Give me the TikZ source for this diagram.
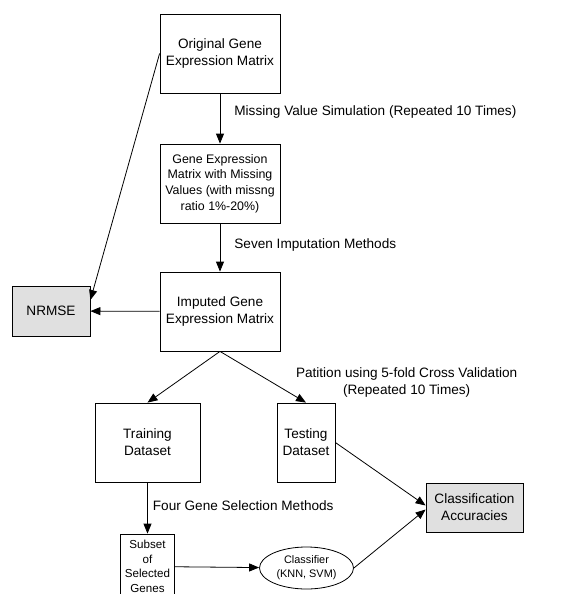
\documentclass[tikz,border=0pt]{standalone}
\usepackage{fontspec}
\setmainfont{Liberation Sans}
\usetikzlibrary{shapes.geometric, arrows.meta}
\usepackage{xcolor}
\definecolor{boxgray}{gray}{0.88}
\tikzstyle{process} = [rectangle, minimum width=120pt, minimum height=79pt, align=center, draw=black, fill=white, line width=0.8pt, font=\fontsize{13.6}{17}\selectfont]
\tikzstyle{result} = [rectangle, minimum height=50pt, align=center, draw=black, fill=boxgray, line width=0.8pt, font=\fontsize{13.6}{17}\selectfont]
\tikzstyle{classifier} = [ellipse, minimum width=94pt, minimum height=42pt, inner sep=0pt, align=center, draw=black, fill=white, line width=0.8pt, font=\fontsize{10.9}{14}\selectfont]
\tikzstyle{steplabel} = [anchor=west, inner sep=0pt, font=\fontsize{13.6}{17}\selectfont]
\tikzstyle{arrow} = [line width=0.8pt, -{Triangle[length=10pt,width=8pt]}]

\begin{document}
\begin{tikzpicture}[node distance=130pt]
    \useasboundingbox (-220pt,53.5pt) rectangle (344pt,-540.5pt);

    \node (orig) [process] {Original Gene\\Expression Matrix};
    \node (miss) [process, below of=orig, font=\fontsize{12.4}{15.7}\selectfont] {Gene Expression\\Matrix with Missing\\Values (with missng\\ratio 1\%-20\%)};
    \node (imp) [process, below of=miss, yshift=2pt] {Imputed Gene\\Expression Matrix};
    \node (nrmse) [result, left of=imp, xshift=-39pt, minimum width=78pt, yshift=0.5pt] {NRMSE};
    \node (train) [process, below of=imp, xshift=-72.5pt, yshift=-1pt, minimum width=105pt] {Training\\Dataset};
    \node (test) [process, below of=imp, xshift=86pt, yshift=-1pt, minimum width=58pt] {Testing\\Dataset};
    \node (acc) [result, right of=test, xshift=38.5pt, yshift=-65pt, minimum width=97pt, minimum height=49pt] {Classification\\Accuracies};
    \node (subset) [process, below of=train, yshift=6pt, minimum width=54pt, minimum height=65pt, inner sep=1pt, font=\fontsize{11.6}{14.5}\selectfont] {Subset\\of\\Selected\\Genes};
    \node (clf) [classifier, right of=subset, xshift=29pt, yshift=-1.5pt] {Classifier\\(KNN, SVM)};

    \draw [arrow] (orig) -- node[steplabel, pos=0.37, xshift=14pt] {Missing Value Simulation (Repeated 10 Times)} (miss);
    \draw [arrow] (miss) -- node[steplabel, pos=0.45, xshift=14pt] {Seven Imputation Methods} (imp);
    \draw [arrow] (orig.west) -- ([yshift=11pt]nrmse.east);
    \draw [arrow] (imp) -- (nrmse);
    \draw [arrow] (imp.south) -- (train.north);
    \draw [arrow] (imp.south) -- node[steplabel, pos=0.6, xshift=24pt, align=center] {Patition using 5-fold Cross Validation\\(Repeated 10 Times)} (test.north);
    \draw [arrow] (train) -- node[steplabel, pos=0.46, xshift=5pt] {Four Gene Selection Methods} (subset);
    \draw [arrow] (subset) -- (clf);
    \draw [arrow] (test.east) -- ([yshift=2pt]acc.west);
    \draw [arrow] (clf.east) -- ([yshift=-2pt]acc.west);
\end{tikzpicture}
\end{document}
